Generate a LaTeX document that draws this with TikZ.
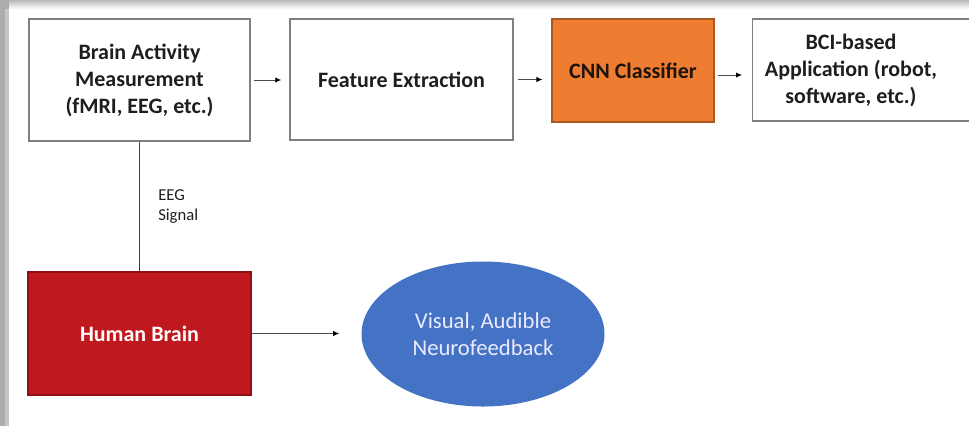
\documentclass[tikz,border=0pt]{standalone}
\usepackage{fontspec}
\setmainfont{Carlito}
\usetikzlibrary{arrows.meta,shapes.geometric}
\definecolor{boxline}{HTML}{7F7F7F}
\definecolor{cnnfill}{HTML}{EE7D31}
\definecolor{cnnline}{HTML}{A9591F}
\definecolor{hbfill}{HTML}{C0181F}
\definecolor{hbline}{HTML}{8E1015}
\definecolor{ellfill}{HTML}{4472C4}
\definecolor{txt}{HTML}{1E1E1E}
\begin{document}
\begin{tikzpicture}[x=0.75pt,y=-0.75pt,
  box/.style={draw=boxline, line width=1.1pt, fill=white, text=txt, align=center, inner sep=0pt,
    font=\bfseries\fontsize{16.5}{20.25}\selectfont},
  arr/.style={draw=black!70, line width=0.7pt, -{Latex[length=4.5pt,width=4pt,color=black]}},
  plain/.style={draw=black!75, line width=0.8pt}]
\useasboundingbox (0,0) rectangle (969,426);
\clip (0,0) rectangle (969,426);
\fill[white] (0,0) rectangle (969,426);
\shade[top color=gray!55, bottom color=white] (0,0) rectangle (969,9);
\fill[gray!65] (0,0) rectangle (9,426);
\fill[gray!45] (5,9) rectangle (9,426);

\node[box, minimum width=165.75pt, minimum height=91.5pt] (b1) at (139.5,80)
  {Brain Activity\\Measurement\\(fMRI, EEG, etc.)};
\node[box, minimum width=167.25pt, minimum height=90.75pt] (b2) at (401.5,79.5)
  {Feature Extraction};
\node[box, draw=cnnline, line width=0.8pt, fill=cnnfill, text=black!85!brown, minimum width=121.5pt, minimum height=77.25pt] (cnn) at (633,70.5)
  {CNN Classifier};
\node[box, minimum width=178.5pt, minimum height=76.5pt, anchor=west] (bcibox) at (752,70) {};
\node[box, draw=none, fill=none] (bci) at (851,70)
  {BCI-based\\Application (robot,\\software, etc.)};
\node[box, draw=hbline, line width=0.8pt, fill=hbfill, text=white!95!pink, minimum width=167.25pt, minimum height=92.25pt] (hb) at (139.5,333.5)
  {Human Brain};
\node[ellipse, fill=ellfill, text=white!92!blue, inner sep=0pt, align=center,
  minimum width=182.25pt, minimum height=108.75pt,
  font=\fontsize{17}{20}\selectfont] (ell) at (483,334)
  {Visual, Audible\\Neurofeedback};
\node[anchor=west, align=left, text=txt, inner sep=0pt, font=\fontsize{12.5}{15}\selectfont] (eeg) at (158,207)
  {EEG\\Signal};

\draw[arr, shorten <=2.25pt, shorten >=6pt] (b1.east) -- (b1.east -| b2.west);
\draw[arr, shorten <=3pt, shorten >=6.75pt] (b2.east) -- (b2.east -| cnn.west);
\draw[arr, shorten <=2.25pt, shorten >=7.5pt] ([yshift=-3.4pt]cnn.east) -- ([yshift=-3.4pt]cnn.east -| bcibox.west);
\draw[plain] (b1.south) -- (hb.north);
\draw[arr, shorten >=16.5pt] (hb.east) -- (hb.east -| ell.west);
\end{tikzpicture}
\end{document}
